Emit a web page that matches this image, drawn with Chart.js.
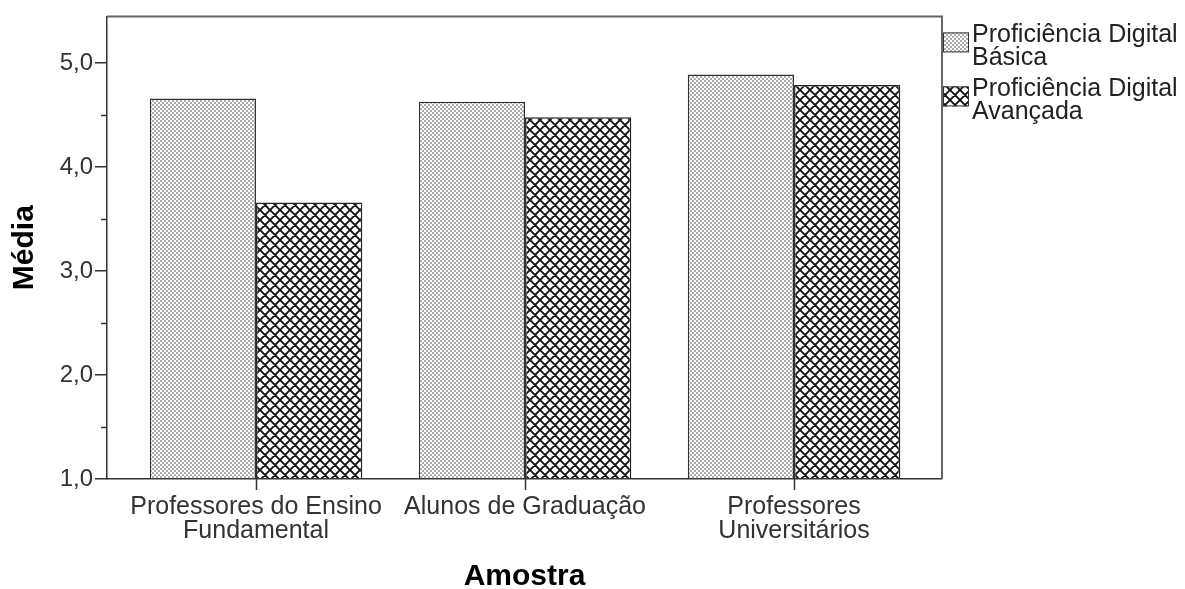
<!DOCTYPE html>
<html><head><meta charset="utf-8">
<script src="https://cdn.jsdelivr.net/npm/chart.js@4.4.0/dist/chart.umd.min.js"></script>
<style>html,body{margin:0;padding:0;background:#fff;}</style>
</head><body>
<canvas id="c" width="1185" height="589"></canvas>
<script>
const categories = [["Professores do Ensino","Fundamental"],["Alunos de Graduação"],["Professores","Universitários"]];
const seriesNames = [["Proficiência Digital","Básica"],["Proficiência Digital","Avançada"]];
const basicValues = [4.66, 4.63, 4.89];
const advancedValues = [3.66, 4.48, 4.79];
const yTickValues = [1,2,3,4,5];
const yTickLabels = ["1,0","2,0","3,0","4,0","5,0"];
const yMinorValues = [1.5,2.5,3.5,4.5];

const canvas = document.getElementById('c');
const ctx = canvas.getContext('2d');

function dotPattern(){
  const c=document.createElement('canvas'); c.width=4; c.height=4;
  const x=c.getContext('2d');
  x.fillStyle='#fff'; x.fillRect(0,0,4,4);
  x.fillStyle='#aaaaaa'; x.fillRect(0,0,2,2); x.fillRect(2,2,2,2);
  return ctx.createPattern(c,'repeat');
}
function hatchPattern(){
  const c=document.createElement('canvas'); c.width=10; c.height=10;
  const x=c.getContext('2d');
  x.fillStyle='#fff'; x.fillRect(0,0,10,10);
  x.strokeStyle='#111'; x.lineWidth=1.9;
  x.beginPath();
  for(const dx of [-10,0,10]){
    x.moveTo(dx,0); x.lineTo(dx+10,10);
    x.moveTo(dx+10,0); x.lineTo(dx,10);
  }
  x.stroke();
  return ctx.createPattern(c,'repeat');
}
const patterns = [dotPattern(), hatchPattern()];
const FONT = 'Liberation Sans, Arial, sans-serif';

const extras = {
  id:'extras',
  afterDraw(chart){
    const {ctx, chartArea:a, scales:{x, y}} = chart;
    ctx.save();
    // frame top & right
    ctx.strokeStyle='#666'; ctx.lineWidth=2;
    ctx.beginPath();
    ctx.moveTo(a.left, a.top); ctx.lineTo(a.right, a.top); ctx.lineTo(a.right, a.bottom);
    ctx.stroke();
    // minor y ticks and category ticks
    ctx.strokeStyle='#333'; ctx.lineWidth=1.5;
    ctx.beginPath();
    yMinorValues.forEach(v=>{ const py=Math.round(y.getPixelForValue(v))+0.5; ctx.moveTo(a.left-6,py); ctx.lineTo(a.left,py); });
    categories.forEach((c,i)=>{ const px=Math.round(x.getPixelForValue(i))+0.5; ctx.moveTo(px,a.bottom); ctx.lineTo(px,a.bottom+11); });
    ctx.stroke();
    // legend
    const lx = a.right + 1, tx = a.right + 30;
    const entryTop = [a.top + 16, a.top + 70];
    ctx.font = '25px ' + FONT; ctx.textBaseline='middle'; ctx.textAlign='left';
    chart.data.datasets.forEach((ds,i)=>{
      const t = entryTop[i];
      ctx.fillStyle = patterns[i];
      ctx.fillRect(lx, t, 26, 20);
      ctx.strokeStyle='#333'; ctx.lineWidth=1;
      ctx.strokeRect(lx+0.5, t+0.5, 25, 19);
      ctx.fillStyle='#222';
      seriesNames[i].forEach((line,j)=> ctx.fillText(line, tx, t + 3 + j*23));
    });
    ctx.restore();
  }
};

new Chart(ctx, {
  type:'bar',
  data:{ datasets:[
    {label: seriesNames[0].join(' '), data: basicValues.map((v,i)=>({x:i,y:v})), backgroundColor: patterns[0], borderColor:'#333', borderWidth:1.5, base:1},
    {label: seriesNames[1].join(' '), data: advancedValues.map((v,i)=>({x:i,y:v})), backgroundColor: patterns[1], borderColor:'#222', borderWidth:1.5, base:1}
  ]},
  options:{
    responsive:false, animation:false,
    layout:{padding:{top:12,right:243,left:0,bottom:0}},
    plugins:{legend:{display:false}, tooltip:{enabled:false}},
    datasets:{bar:{barPercentage:1, categoryPercentage:0.79}},
    scales:{
      x:{type:'linear', min:-0.554, max:2.55, offset:false,
        afterBuildTicks: s=>{ s.ticks = categories.map((c,i)=>({value:i})); },
        afterFit: s=>{ s.height = 110; },
        ticks:{ callback:(v)=>categories[v], font:{family:FONT, size:25, lineHeight:0.95}, color:'#333', padding:5, maxRotation:0, autoSkip:false },
        grid:{drawOnChartArea:false, offset:false, tickLength:11, color:'rgba(0,0,0,0)', lineWidth:1.5},
        border:{color:'#333', width:1.5},
        title:{display:true, text:'Amostra', font:{family:FONT, size:30, weight:'bold', lineHeight:0.8}, color:'#000', padding:{top:0,bottom:0}}
      },
      y:{min:1, max:5.45,
        afterBuildTicks: s=>{ s.ticks = yTickValues.map(v=>({value:v})); },
        afterFit: s=>{ s.width = 107; },
        ticks:{ callback:(v)=>yTickLabels[yTickValues.indexOf(v)], font:{family:FONT, size:24}, color:'#333', padding:2 },
        grid:{drawOnChartArea:false, tickLength:12, color:'#333', lineWidth:1.5},
        border:{color:'#333', width:1.5},
        title:{display:true, text:'Média', font:{family:FONT, size:30, weight:'bold'}, color:'#000', padding:{top:7,bottom:0}}
      }
    }
  },
  plugins:[extras]
});
</script>
</body></html>
